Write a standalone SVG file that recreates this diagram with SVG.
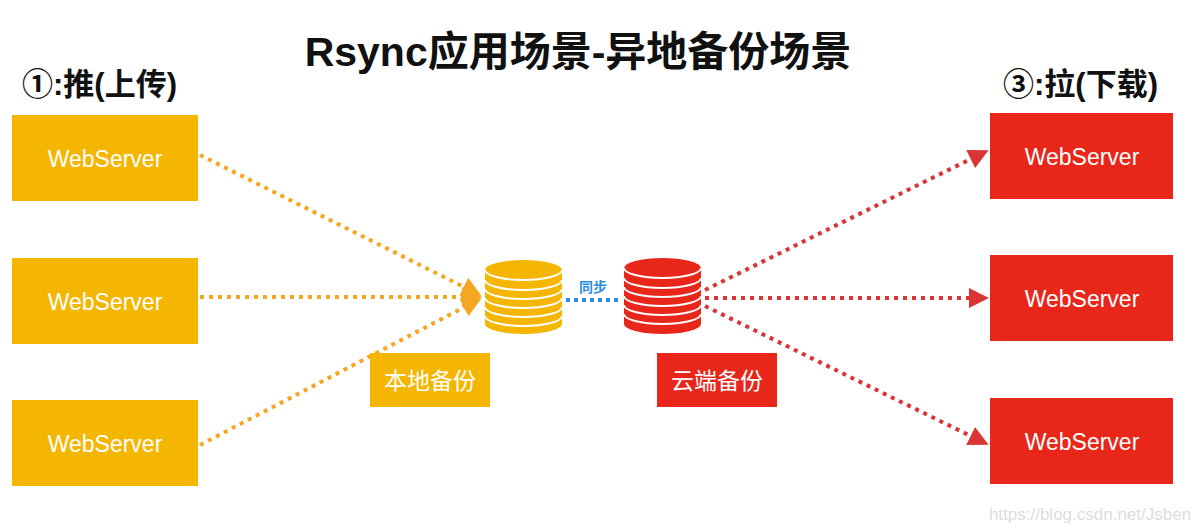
<svg xmlns="http://www.w3.org/2000/svg" width="1200" height="532" viewBox="0 0 1200 532">
<style>
text{font-family:"Liberation Sans","Noto Sans CJK SC",sans-serif}
.y{fill:#F5B602}.r{fill:#E9261A}
.wt{fill:#fff;font-size:23px;text-anchor:middle}
.lo{stroke:#F5A623;stroke-width:4;stroke-dasharray:4 5;fill:none}
.lr{stroke:#DB3434;stroke-width:4;stroke-dasharray:4 5;fill:none}
.h{font-size:31px;font-weight:bold;fill:#111}
.ring{fill:none;stroke:#fff;stroke-width:2}
</style>
<defs>
<marker id="ao" markerWidth="5" markerHeight="5" refX="4" refY="2.5" orient="auto" markerUnits="strokeWidth"><path d="M0,0 L5,2.5 L0,5 Z" fill="#F5A623"/></marker>
<marker id="ar" markerWidth="5" markerHeight="5" refX="4" refY="2.5" orient="auto" markerUnits="strokeWidth"><path d="M0,0 L5,2.5 L0,5 Z" fill="#DB3434"/></marker>
</defs>
<rect width="1200" height="532" fill="#fff"/>
<text x="578" y="66" font-size="41" font-weight="bold" fill="#111" text-anchor="middle">Rsync应用场景-异地备份场景</text>
<text x="22" y="95" class="h">①:推(上传)</text>
<text x="1003" y="95" class="h">③:拉(下载)</text>
<g id="connectors">
<path class="lo" d="M200,155 L478,294" marker-end="url(#ao)"/>
<path class="lo" d="M200,297 L478,297" marker-end="url(#ao)"/>
<path class="lo" d="M200,445 L478,300" marker-end="url(#ao)"/>
<path d="M566,300 L622,300" stroke="#2A8FE0" stroke-width="4" stroke-dasharray="4 4"/>
<path class="lr" d="M705,290 L985,152" marker-end="url(#ar)"/>
<path class="lr" d="M705,298 L985,298" marker-end="url(#ar)"/>
<path class="lr" d="M705,306 L985,443" marker-end="url(#ar)"/>
</g>
<text x="593" y="292" font-size="14" font-weight="bold" fill="#2A8FE0" text-anchor="middle">同步</text>
<g id="l1"><rect x="12" y="115" width="186" height="86" class="y"/><text x="105" y="167" class="wt">WebServer</text></g>
<g id="l2"><rect x="12" y="258" width="186" height="86" class="y"/><text x="105" y="310" class="wt">WebServer</text></g>
<g id="l3"><rect x="12" y="400" width="186" height="86" class="y"/><text x="105" y="452" class="wt">WebServer</text></g>
<g id="r1"><rect x="990" y="113" width="183" height="86" class="r"/><text x="1082" y="165" class="wt">WebServer</text></g>
<g id="r2"><rect x="990" y="255" width="183" height="86" class="r"/><text x="1082" y="307" class="wt">WebServer</text></g>
<g id="r3"><rect x="990" y="398" width="183" height="86" class="r"/><text x="1082" y="450" class="wt">WebServer</text></g>
<g id="db1">
<rect x="485" y="270" width="77" height="54" class="y"/>
<ellipse cx="523.5" cy="324" rx="38.5" ry="10" class="y"/>
<ellipse cx="523.5" cy="270" rx="38.5" ry="10" class="y"/>
<path class="ring" d="M485,270 A38.5,10 0 0 0 562,270 M485,280 A38.5,10 0 0 0 562,280 M485,289 A38.5,10 0 0 0 562,289 M485,298 A38.5,10 0 0 0 562,298 M485,307 A38.5,10 0 0 0 562,307 M485,316 A38.5,10 0 0 0 562,316"/>
</g>
<g id="db2">
<rect x="624" y="268" width="77" height="56" class="r"/>
<ellipse cx="662.5" cy="324" rx="38.5" ry="10" class="r"/>
<ellipse cx="662.5" cy="268" rx="38.5" ry="10" class="r"/>
<path class="ring" d="M624,268 A38.5,10 0 0 0 701,268 M624,278 A38.5,10 0 0 0 701,278 M624,287 A38.5,10 0 0 0 701,287 M624,296 A38.5,10 0 0 0 701,296 M624,305 A38.5,10 0 0 0 701,305 M624,314 A38.5,10 0 0 0 701,314"/>
</g>
<g id="lab1"><rect x="370" y="353" width="120" height="54" class="y"/><text x="430" y="389" class="wt">本地备份</text></g>
<g id="lab2"><rect x="657" y="353" width="120" height="54" class="r"/><text x="717" y="389" class="wt">云端备份</text></g>
<text x="1090" y="520" font-size="17" fill="#ddd" text-anchor="middle">https://blog.csdn.net/Jsben</text>
</svg>
